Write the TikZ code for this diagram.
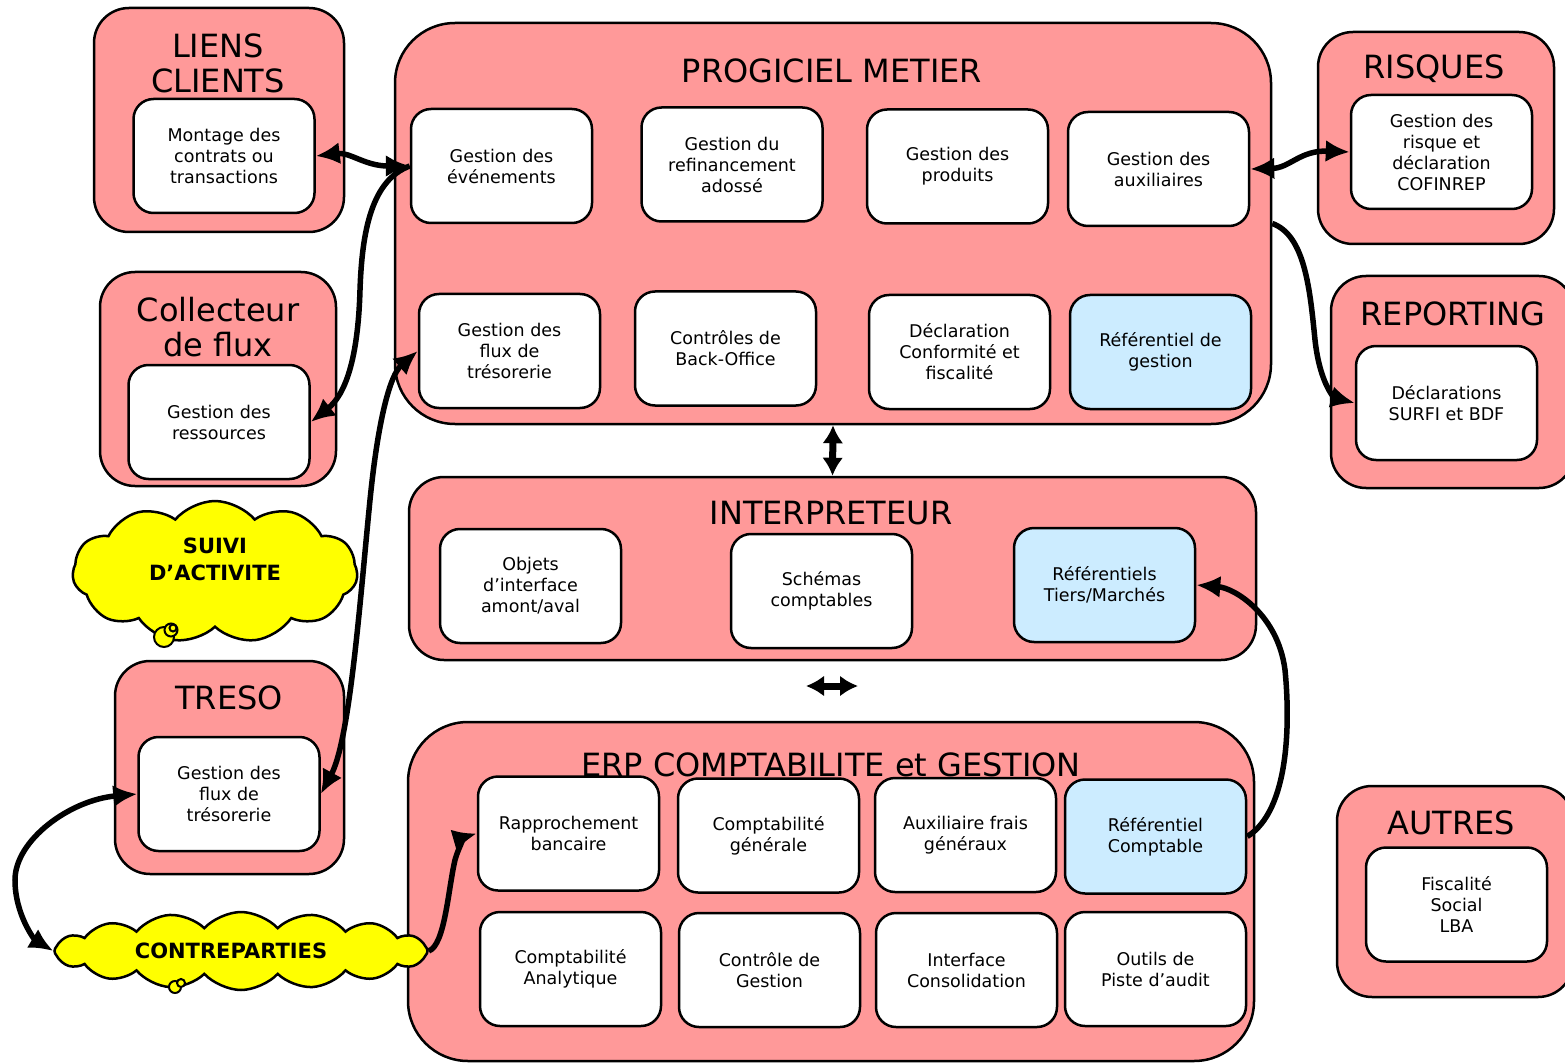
\documentclass[tikz,border=0pt]{standalone}
\usepackage{fontspec}
\setmainfont{DejaVu Sans}
\usetikzlibrary{arrows.meta,shapes.symbols}
\definecolor{rose}{HTML}{FF9999}
\definecolor{bleuclair}{HTML}{CCECFF}
\definecolor{jaune}{HTML}{FFFF00}
\tikzset{
	bloc/.style={draw, fill=rose, line width=2.5pt, rounded corners=35pt},
	grandbloc/.style={bloc, rounded corners=60pt},
	boite/.style={draw, fill=white, line width=2.5pt, rounded corners=20pt, minimum width=181pt, minimum height=114pt, align=center, inner sep=4pt, font=\fontsize{17.5}{21}\selectfont},
	boitebleue/.style={boite, fill=bleuclair},
	titre/.style={align=center, font=\fontsize{32}{35}\selectfont},
	nuage/.style={cloud, draw, fill=jaune, line width=2.5pt, cloud ignores aspect, align=center, font=\fontsize{21}{27}\selectfont\bfseries},
	bulle/.style={circle, draw, fill=jaune, line width=2pt, inner sep=0pt},
	fleche/.style={line width=5.5pt, -{Latex[length=24pt,width=22pt]}},
	doublefleche/.style={line width=5.5pt, {Latex[length=24pt,width=22pt]}-{Latex[length=24pt,width=22pt]}},
	grossefleche/.style={line width=7pt, {Latex[length=18pt,width=21pt]}-{Latex[length=18pt,width=21pt]}}
}
\begin{document}
\begin{tikzpicture}[x=1pt,y=-1pt]
		\useasboundingbox (0,0) rectangle (1565,1064);

		\coordinate (liens) at (219,120);
		\coordinate (collecteur) at (218,379);
		\coordinate (treso) at (229.5,767.5);
		\coordinate (progiciel) at (833,223.5);
		\coordinate (interpreteur) at (832.5,568.5);
		\coordinate (erp) at (831,891.5);
		\coordinate (risques) at (1436,138);
		\coordinate (reporting) at (1452.5,382);
		\coordinate (autres) at (1455,891.5);

		% blocs
		\node[bloc, minimum width=250pt, minimum height=224pt] (liensbloc) at (liens) {};
		\node[bloc, minimum width=236pt, minimum height=214pt] (collbloc) at (collecteur) {};
		\node[bloc, minimum width=229pt, minimum height=213pt] (tresobloc) at (treso) {};
		\node[grandbloc, minimum width=876pt, minimum height=401pt] (prog) at (progiciel) {};
		\node[bloc, minimum width=847pt, minimum height=183pt] (interp) at (interpreteur) {};
		\node[grandbloc, minimum width=846pt, minimum height=339pt] (erpbloc) at (erp) {};
		\node[bloc, minimum width=236pt, minimum height=212pt] (risquesbloc) at (risques) {};
		\node[bloc, minimum width=243pt, minimum height=212pt] (reportbloc) at (reporting) {};
		\node[bloc, minimum width=236pt, minimum height=211pt] (autresbloc) at (autres) {};

		% titres
		\node[titre] (titreliens) at (218,63) {LIENS\\CLIENTS};
		\node[titre] (titrecoll) at (218,327) {Collecteur\\de flux};
		\node[titre] (titretreso) at (229,698) {TRESO};
		\node[titre] (titreprog) at (832,71) {PROGICIEL METIER};
		\node[titre] (titreinterp) at (831,513) {INTERPRETEUR};
		\node[titre] (titreerp) at (831,765) {ERP COMPTABILITE et GESTION};
		\node[titre] (titrerisques) at (1434,69) {RISQUES};
		\node[titre] (titrereport) at (1453,314) {REPORTING};
		\node[titre] (titreautres) at (1451,823) {AUTRES};

		% boites
		\node[boite] (montage) at (224,156) {Montage des\\contrats ou\\transactions};
		\node[boite] (ressources) at (219,422) {Gestion des\\ressources};
		\node[boite] (fluxT) at (229,794) {Gestion des\\flux de\\trésorerie};

		\node[boite] (evt) at (501.5,166) {Gestion des\\événements};
		\node[boite] (refi) at (732,164.5) {Gestion du\\refinancement\\adossé};
		\node[boite] (prod) at (957.5,166.5) {Gestion des\\produits};
		\node[boite] (aux) at (1158.5,169) {Gestion des\\auxiliaires};
		\node[boite] (fluxP) at (509.5,351) {Gestion des\\flux de\\trésorerie};
		\node[boite] (ctrl) at (725.5,348.5) {Contrôles de\\Back-Office};
		\node[boite] (decl) at (959.5,352) {Déclaration\\Conformité et\\fiscalité};
		\node[boitebleue] (refg) at (1160.5,352) {Référentiel de\\gestion};

		\node[boite] (objets) at (530.5,586) {Objets\\d’interface\\amont/aval};
		\node[boite] (schemas) at (821.5,591) {Schémas\\comptables};
		\node[boitebleue] (tiers) at (1104.5,585) {Référentiels\\Tiers/Marchés};

		\node[boite] (rappro) at (568.5,833.5) {Rapprochement\\bancaire};
		\node[boite] (cptgen) at (768.5,835.5) {Comptabilité\\générale};
		\node[boite] (auxfrais) at (965.5,835) {Auxiliaire frais\\généraux};
		\node[boitebleue] (refcpt) at (1155.5,836.5) {Référentiel\\Comptable};
		\node[boite] (analyt) at (570.5,969) {Comptabilité\\Analytique};
		\node[boite] (ctrlg) at (769.5,970) {Contrôle de\\Gestion};
		\node[boite] (consol) at (966.5,970) {Interface\\Consolidation};
		\node[boite] (piste) at (1155.5,969) {Outils de\\Piste d’audit};

		\node[boite] (risque) at (1441.5,152) {Gestion des\\risque et\\déclaration\\COFINREP};
		\node[boite] (surfi) at (1446.5,403) {Déclarations\\SURFI et BDF};
		\node[boite] (fisc) at (1456.5,904.5) {Fiscalité\\Social\\LBA};

		% nuages
		\node[nuage, cloud puffs=11, cloud puff arc=100, minimum width=285pt, minimum height=142pt] (suivi) at (215,572) {SUIVI\\D’ACTIVITE\hspace*{8pt}\\[-2pt]};
		\node[bulle, minimum size=20pt] (bulle1) at (164,637) {};
		\node[bulle, minimum size=13pt] (bulle2) at (171,630) {};
		\node[bulle, minimum size=7pt] (bulle3) at (173,628) {};
		\node[nuage, cloud puffs=16, cloud puff arc=95, minimum width=373pt, minimum height=78pt] (contre) at (241,951) {CONTREPARTIES\hspace*{20pt}};
		\node[bulle, minimum size=12pt] (bulle4) at (175,987) {};
		\node[bulle, minimum size=8pt] (bulle5) at (181,983) {};

		% fleches
		\draw[doublefleche] (montage.east) .. controls (350,152) and (365,166) .. (evt.west);
		\draw[fleche] (evt.west) .. controls (372,180) and (362,230) .. (360,290) .. controls (358,360) and (345,395) .. (ressources.east);
		\draw[doublefleche] (fluxT.east) .. controls (350,740) and (360,600) .. (370,500) .. controls (378,420) and (390,375) .. (fluxP.west);
		\draw[grossefleche] (prog.south) -- (interp.north);
		\coordinate (milieugauche) at (806,686);
		\coordinate (milieudroite) at (858,686);
		\draw[grossefleche] (milieugauche) -- (milieudroite);
		\draw[doublefleche] (aux.east) .. controls (1290,168) and (1300,150) .. (risque.west);
		\draw[fleche] (prog.east) .. controls (1305,235) and (1310,290) .. (1315,340) .. controls (1320,385) and (1335,398) .. (surfi.west);
		\draw[fleche] (refcpt.east) .. controls (1290,810) and (1290,720) .. (1285,670) .. controls (1278,615) and (1235,588) .. (tiers.east);
		\draw[doublefleche] (fluxT.west) .. controls (70,800) and (15,840) .. (15,880) .. controls (15,915) and (35,940) .. (contre.west);
		\draw[fleche] (contre.east) .. controls (445,945) and (448,890) .. (455,860) .. controls (460,842) and (468,836) .. (rappro.west);
	\end{tikzpicture}
\end{document}
